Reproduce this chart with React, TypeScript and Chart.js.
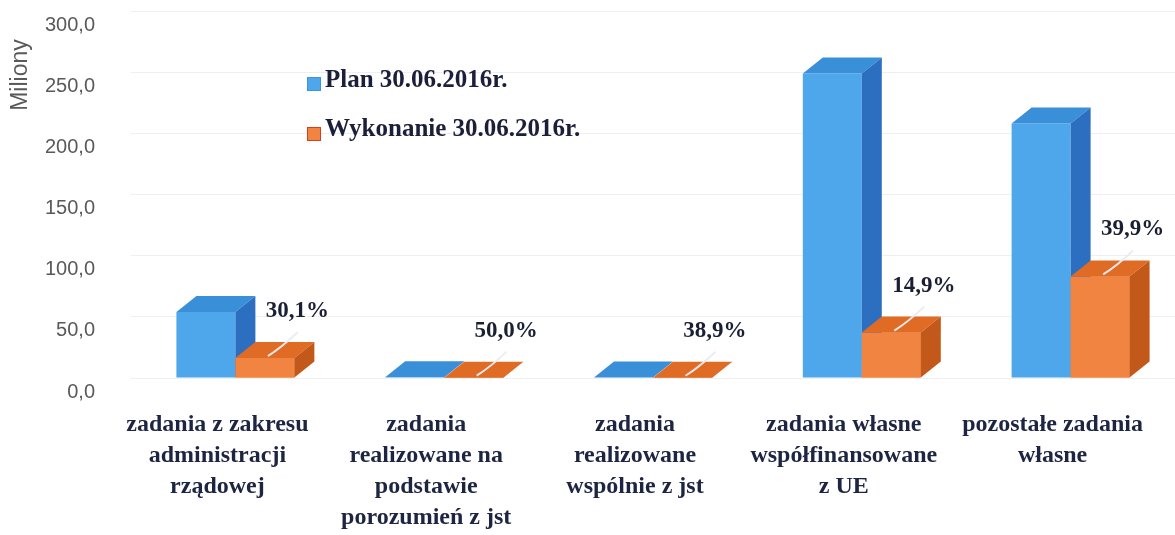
import React, { useEffect, useRef } from "react";
import { Chart, registerables } from "chart.js";

Chart.register(...registerables);

const categories: string[][] = [
  ["zadania z zakresu", "administracji", "rządowej"],
  ["zadania", "realizowane na", "podstawie", "porozumień z jst"],
  ["zadania", "realizowane", "wspólnie z jst"],
  ["zadania własne", "współfinansowane", "z UE"],
  ["pozostałe zadania", "własne"],
];
const planValues = [54.0, 0.6, 0.5, 249.0, 208.0];
const wykonanieValues = [16.3, 0.3, 0.2, 37.1, 83.0];
const percentLabels = ["30,1%", "50,0%", "38,9%", "14,9%", "39,9%"];
const seriesNames = ["Plan 30.06.2016r.", "Wykonanie 30.06.2016r."];
const yTicks = { min: 0, max: 300, step: 50 };
const axisTitle = "Miliony";

const FRONT = ["#4da7ea", "#f08440"];
const TOP = ["#3a8fd9", "#df6b24"];
const SIDE = ["#2c6fc0", "#c2581a"];
const DX = 20;
const DY = 16;

const serif = "'Liberation Serif', 'Times New Roman', serif";
const sans = "'Liberation Sans', Arial, sans-serif";

function drawFaces(ctx: CanvasRenderingContext2D, bar: any, idx: number) {
  const p = bar.getProps(["x", "y", "base", "width"], true);
  const l = p.x - p.width / 2;
  const r = p.x + p.width / 2;
  ctx.fillStyle = TOP[idx];
  ctx.beginPath();
  ctx.moveTo(l, p.y);
  ctx.lineTo(l + DX, p.y - DY);
  ctx.lineTo(r + DX, p.y - DY);
  ctx.lineTo(r, p.y);
  ctx.closePath();
  ctx.fill();
  ctx.fillStyle = SIDE[idx];
  ctx.beginPath();
  ctx.moveTo(r, p.y);
  ctx.lineTo(r + DX, p.y - DY);
  ctx.lineTo(r + DX, p.base - DY);
  ctx.lineTo(r, p.base);
  ctx.closePath();
  ctx.fill();
}

const threeD = {
  id: "threeD",
  afterDatasetsDraw(chart: any) {
    const ctx = chart.ctx;
    const planMeta = chart.getDatasetMeta(0);
    const wykMeta = chart.getDatasetMeta(1);
    ctx.save();
    planMeta.data.forEach((bar: any) => drawFaces(ctx, bar, 0));
    // orange front faces sit in front of the blue side faces
    wykMeta.data.forEach((bar: any) => bar.draw(ctx));
    wykMeta.data.forEach((bar: any) => drawFaces(ctx, bar, 1));
    wykMeta.data.forEach((bar: any, i: number) => {
      const p = bar.getProps(["x", "y", "width"], true);
      ctx.strokeStyle = "rgba(232,236,244,0.95)";
      ctx.lineWidth = 2;
      ctx.beginPath();
      ctx.moveTo(p.x + 3, p.y - 2);
      ctx.quadraticCurveTo(p.x + 16, p.y - 10, p.x + 33, p.y - 26);
      ctx.stroke();
      ctx.fillStyle = "#1b1f33";
      ctx.font = `bold 23px ${serif}`;
      ctx.textAlign = "center";
      ctx.textBaseline = "middle";
      ctx.fillText(percentLabels[i], p.x + p.width / 2 + 3, p.y - 47);
    });
    ctx.translate(21, 75);
    ctx.rotate(-Math.PI / 2);
    ctx.font = `23px ${sans}`;
    ctx.fillStyle = "#595959";
    ctx.textAlign = "center";
    ctx.textBaseline = "middle";
    ctx.fillText(axisTitle, 0, 0);
    ctx.restore();
  },
};

export default function App() {
  const ref = useRef<HTMLCanvasElement | null>(null);
  useEffect(() => {
    if (!ref.current) return;
    const chart = new Chart(ref.current, {
      type: "bar",
      data: {
        labels: categories,
        datasets: [
          {
            label: seriesNames[0],
            data: planValues,
            backgroundColor: FRONT[0],
            categoryPercentage: 0.565,
            barPercentage: 1.0,
          },
          {
            label: seriesNames[1],
            data: wykonanieValues,
            backgroundColor: FRONT[1],
            categoryPercentage: 0.565,
            barPercentage: 1.0,
          },
        ],
      },
      options: {
        animation: false,
        responsive: true,
        maintainAspectRatio: false,
        layout: { padding: { top: 11, left: 0, right: 0, bottom: 0 } },
        plugins: {
          legend: { display: false },
          tooltip: { enabled: false },
        },
        scales: {
          x: {
            grid: {
              display: true,
              drawOnChartArea: false,
              drawTicks: true,
              tickLength: 28,
              tickColor: "rgba(0,0,0,0)",
              color: "rgba(0,0,0,0)",
            },
            border: { display: false },
            afterFit: (s: any) => {
              s.height = 157;
            },
            ticks: {
              autoSkip: false,
              maxRotation: 0,
              minRotation: 0,
              padding: 3,
              labelOffset: -18,
              color: "#1e2542",
              font: { family: serif, size: 24, weight: "bold", lineHeight: 1.29 },
            },
          },
          y: {
            min: yTicks.min,
            max: yTicks.max,
            grid: {
              color: "#efefef",
              drawTicks: true,
              tickLength: 36,
              tickColor: "rgba(0,0,0,0)",
            },
            border: { display: false },
            afterFit: (s: any) => {
              s.width = 131;
            },
            ticks: {
              stepSize: yTicks.step,
              padding: 0,
              labelOffset: 14,
              color: "#595959",
              font: { family: sans, size: 20, lineHeight: 1.0 },
              callback: (v: any) => Number(v).toFixed(1).replace(".", ","),
            },
          },
        },
      },
      plugins: [threeD],
    });
    return () => chart.destroy();
  }, []);

  const legendText: React.CSSProperties = {
    position: "absolute",
    left: 325,
    fontFamily: serif,
    fontWeight: "bold",
    fontSize: 25,
    lineHeight: "30px",
    color: "#1b1f3a",
    whiteSpace: "nowrap",
  };
  const sq = (color: string, border: string, top: number): React.CSSProperties => ({
    position: "absolute",
    left: 307,
    top,
    width: 12,
    height: 12,
    background: color,
    border: `1px solid ${border}`,
  });

  return (
    <div style={{ position: "fixed", left: 0, top: 0, width: 1175, height: 535, background: "#fff" }}>
      <canvas ref={ref} />
      <div style={sq(FRONT[0], "#3f93dc", 77)} />
      <div style={{ ...legendText, top: 64 }}>{seriesNames[0]}</div>
      <div style={sq(FRONT[1], "#d2401c", 127)} />
      <div style={{ ...legendText, top: 113 }}>{seriesNames[1]}</div>
    </div>
  );
}
